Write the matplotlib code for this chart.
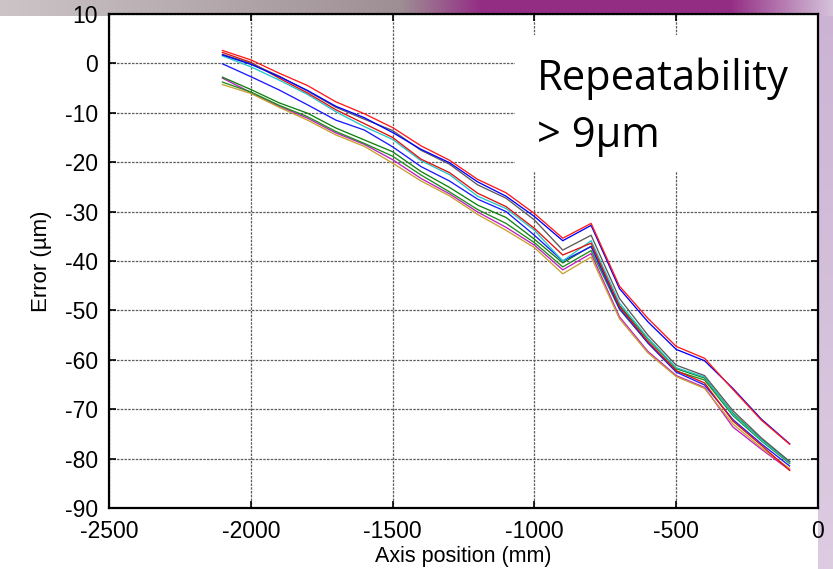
import numpy as np
import matplotlib
matplotlib.use("Agg")
import matplotlib.pyplot as plt
from matplotlib.patches import Rectangle

# Axis positions (mm) and measured errors (um) for ten repeated runs
positions = [-2100, -2000, -1900, -1800, -1700, -1600, -1500, -1400, -1300, -1200,
             -1100, -1000, -900, -800, -700, -600, -500, -400, -300, -200, -100]

run_red_a = [2.6, 0.7, -2.0, -4.5, -7.8, -10.2, -13.0, -16.7, -19.6, -23.5, -26.2,
             -30.4, -35.4, -32.4, -45.1, -51.6, -57.3, -59.7, -66.0, -72.2, -77.1]
run_blue_a = [1.7, -0.2, -2.7, -5.5, -8.7, -11.0, -14.0, -17.4, -20.1, -24.0, -26.9,
              -31.0, -35.9, -32.8, -45.6, -52.3, -57.9, -60.2, -65.8, -72.0, -77.0]
run_gray = [1.8, 0.0, -2.6, -5.6, -8.9, -11.3, -13.6, -17.6, -20.4, -24.6, -27.3,
            -31.7, -37.8, -34.8, -47.6, -55.0, -61.1, -63.2, -70.3, -75.8, -80.6]
run_red_b = [2.2, 0.2, -3.0, -6.0, -9.4, -12.2, -15.0, -19.4, -22.1, -26.3, -29.0,
             -33.4, -38.8, -36.4, -49.2, -56.3, -62.2, -64.7, -72.4, -77.3, -82.4]
run_cyan = [1.5, -0.7, -3.4, -6.3, -9.8, -12.8, -15.4, -19.7, -22.5, -26.9, -29.4,
            -33.8, -40.0, -35.9, -48.5, -55.6, -61.6, -63.5, -71.0, -76.2, -80.8]
run_blue_b = [-0.1, -2.7, -5.4, -8.4, -11.5, -13.5, -16.9, -20.9, -23.8, -27.5, -30.0,
              -34.8, -40.0, -37.1, -49.6, -56.6, -62.5, -65.1, -72.1, -77.0, -81.5]
run_green_a = [-2.8, -5.3, -8.0, -10.1, -13.1, -15.5, -17.9, -21.9, -25.1, -28.7, -31.2,
               -35.6, -40.4, -37.0, -49.0, -55.8, -61.8, -63.7, -70.8, -76.1, -80.6]
run_green_b = [-3.8, -5.8, -8.5, -10.8, -13.8, -16.2, -18.8, -22.6, -26.0, -29.6, -32.4,
               -36.3, -41.2, -37.9, -49.8, -56.5, -62.3, -64.1, -71.3, -76.4, -81.0]
run_magenta = [-3.0, -5.9, -8.7, -11.1, -14.1, -16.4, -19.5, -23.3, -26.4, -30.1, -33.2,
               -36.8, -41.8, -38.5, -51.3, -58.3, -63.2, -65.6, -73.6, -78.1, -82.3]
run_gold = [-4.3, -6.1, -8.9, -11.5, -14.5, -16.8, -20.2, -23.8, -26.8, -30.6, -33.8,
            -37.3, -42.6, -39.2, -51.7, -58.6, -63.4, -65.8, -73.0, -77.8, -82.0]

runs = [
    (run_magenta, "#c020c0"),
    (run_gold, "#c9a030"),
    (run_green_b, "#1e8c1e"),
    (run_green_a, "#108010"),
    (run_blue_b, "#1a1aff"),
    (run_cyan, "#20c8c8"),
    (run_red_b, "#e01010"),
    (run_gray, "#5a5a5a"),
    (run_blue_a, "#0000ff"),
    (run_red_a, "#ff1a1a"),
]

x_ticks = [-2500, -2000, -1500, -1000, -500, 0]
y_ticks = [10, 0, -10, -20, -30, -40, -50, -60, -70, -80, -90]

W, H, DPI = 833, 569, 100
fig = plt.figure(figsize=(W / DPI, H / DPI), dpi=DPI)

# Decorative slide backdrop: photo strip along the top, lavender edge on the right
bg = np.ones((H, W, 3))
top_rgb = np.zeros((W, 3))
grey = np.array([0.80, 0.77, 0.78])
grey2 = np.array([0.62, 0.56, 0.58])
mag = np.array([0.58, 0.18, 0.52])
lav = np.array([0.84, 0.77, 0.86])
for i in range(W):
    if i < 400:
        t = i / 400
        top_rgb[i] = grey * (1 - t) + grey2 * t
    elif i < 480:
        t = (i - 400) / 80
        top_rgb[i] = grey2 * (1 - t) + mag * t
    elif i < 730:
        top_rgb[i] = mag
    else:
        t = (i - 730) / 103
        top_rgb[i] = mag * (1 - t) + lav * t
rows_top = 16
for r in range(rows_top):
    bg[r] = top_rgb
right_rgb = np.array([0.80, 0.70, 0.83])
for r in range(rows_top, H):
    t = r / H
    bg[r, 818:] = right_rgb * (1 - 0.5 * t) + np.array([0.93, 0.90, 0.94]) * 0.5 * t

bg_ax = fig.add_axes([0, 0, 1, 1], zorder=-1)
bg_ax.imshow(bg, aspect="auto", interpolation="bilinear")
bg_ax.set_axis_off()

left, right, top, bottom = 109, 818, 13.9, 508
ax = fig.add_axes([left / W, 1 - bottom / H, (right - left) / W, (bottom - top) / H],
                  zorder=1)
ax.set_facecolor("white")

for values, color in runs:
    ax.plot(positions, values, color=color, lw=0.95, zorder=3)

ax.set_xlim(-2500, 0)
ax.set_ylim(-90, 10)
ax.set_xticks(x_ticks)
ax.set_yticks(y_ticks)
ax.set_xticklabels([str(v) for v in x_ticks])
ax.set_yticklabels([str(v) for v in y_ticks])

font = "Liberation Sans"
ax.tick_params(direction="in", length=5, width=1.2, top=True, right=True,
               labelsize=16.5, pad=8, colors="black")
for lab in ax.get_xticklabels() + ax.get_yticklabels():
    lab.set_fontfamily(font)
ax.tick_params(axis="x", pad=9)

ax.set_axisbelow(True)
ax.grid(True, color="#5e5e5e", lw=0.9, linestyle=(0, (2, 1)))
for s in ax.spines.values():
    s.set_linewidth(1.6)
    s.set_color("black")

ax.set_xlabel("Axis position (mm)", fontsize=15.5, family=font, labelpad=2)
ax.set_ylabel("Error (\u00b5m)", fontsize=16, family=font, labelpad=9)

# Annotation panel covering the upper right of the grid
bx0 = (515 - left) / (right - left)
by0 = (bottom - 172) / (bottom - top)
by1 = (bottom - 35) / (bottom - top)
ax.add_patch(Rectangle((bx0, by0), 1 - bx0, by1 - by0, transform=ax.transAxes,
                       facecolor="white", edgecolor="none", zorder=1.5))
tx = (537 - left) / (right - left)
ax.text(tx, (bottom - 90) / (bottom - top), "Repeatability", transform=ax.transAxes,
        fontsize=30, family="Open Sans", va="baseline", ha="left", color="black", zorder=4)
ax.text(tx, (bottom - 147) / (bottom - top), "> 9\u00b5m", transform=ax.transAxes,
        fontsize=30, family="Open Sans", va="baseline", ha="left", color="black", zorder=4)

fig.savefig("out.png", dpi=DPI)
